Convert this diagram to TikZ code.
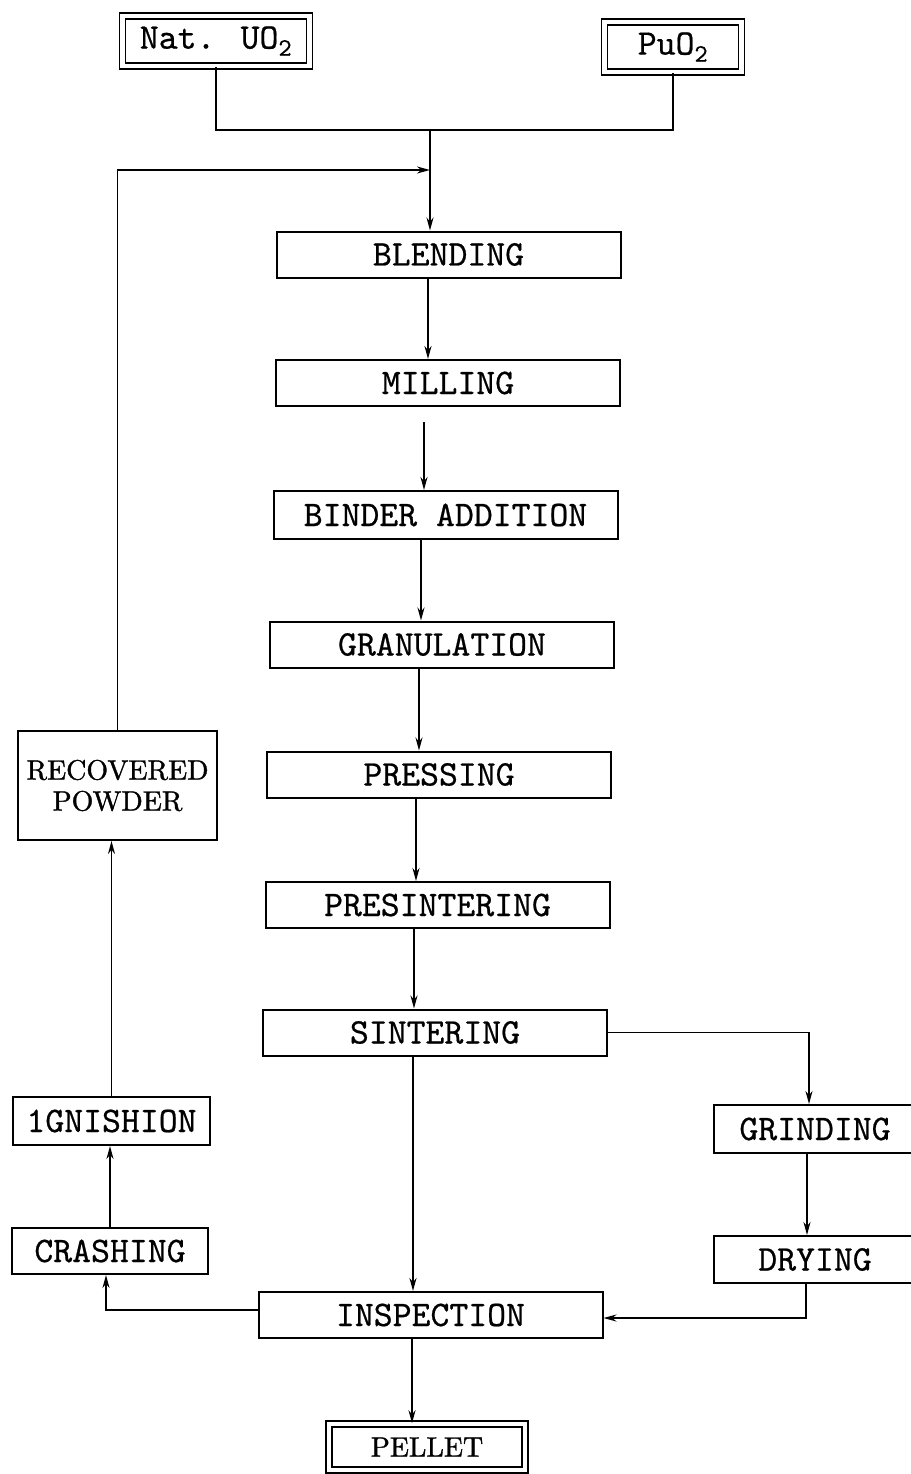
\documentclass[tikz,border=0pt]{standalone}
\usepackage{fontspec}
\usetikzlibrary{arrows.meta}
\newfontfamily\typer{lmmono10-regular.otf}[FakeBold=0.6]
\newfontfamily\serifer{lmroman10-regular.otf}[FakeBold=1.2]

\begin{document}
\begin{tikzpicture}[x=1pt,y=-1pt,
    >={Stealth[length=13pt,width=7pt]},
    box/.style={draw,line width=2pt,minimum width=344pt,minimum height=46pt,inner sep=0pt,font=\fontsize{36}{40}\typer},
    sidebox/.style={box,minimum width=197pt},
    endbox/.style={draw,double,double distance=4.5pt,line width=1.6pt,inner sep=0pt,font=\fontsize{36}{40}\typer},
    flow/.style={->,line width=1.8pt}]
    \useasboundingbox (0,0) rectangle (910,1474);

    \node[endbox,minimum width=187pt,minimum height=50pt] (nat) at (216,41) {Nat. UO\textsubscript{2}};
    \node[endbox,minimum width=137pt,minimum height=50pt] (puo) at (673,47) {PuO\textsubscript{2}};

    \node[box] (blend) at (448.5,254.5) {BLENDING};
    \node[box] (mill) at (448,383) {MILLING};
    \node[box,minimum height=48pt] (binder) at (445.5,515) {BINDER ADDITION};
    \node[box] (gran) at (442,644.5) {GRANULATION};
    \node[box] (press) at (439,774.5) {PRESSING};
    \node[box] (presint) at (437.5,905) {PRESINTERING};
    \node[box] (sint) at (435,1032.5) {SINTERING};
    \node[box] (insp) at (430.5,1315) {INSPECTION};
    \node[endbox,minimum width=196pt,minimum height=46pt,font=\fontsize{28}{31}\serifer] (pellet) at (427,1447) {PELLET};

    \node[sidebox,minimum width=199pt,minimum height=109pt,align=center,font=\fontsize{28}{31}\serifer] (recov) at (117.5,785.5) {RECOVERED\\POWDER};
    \node[sidebox,minimum height=48pt] (ign) at (111.5,1121) {1GNISHION};
    \node[sidebox,minimum width=196pt] (crash) at (110,1251) {CRASHING};
    \node[sidebox,minimum width=202pt,minimum height=48pt] (grind) at (815,1129) {GRINDING};
    \node[sidebox,minimum width=202pt,minimum height=47pt] (dry) at (815,1259.5) {DRYING};

    \coordinate (join) at (430,130);
    \coordinate (back) at (430,170);

    \draw[line width=1.8pt] (nat.south) |- (join) -| (puo.south);
    \draw[flow] (join) -- (join |- blend.north);
    \draw[flow] (recov.north) |- (back);

    \draw[flow] ([xshift=-20.5pt]blend.south) -- ([xshift=-20pt]mill.north);
    \draw[flow,shorten <=15pt] ([xshift=-24pt]mill.south) -- ([xshift=-21.5pt]binder.north);
    \draw[flow] ([xshift=-24.5pt]binder.south) -- ([xshift=-21pt]gran.north);
    \draw[flow] ([xshift=-23pt]gran.south) -- ([xshift=-20pt]press.north);
    \draw[flow] ([xshift=-23pt]press.south) -- ([xshift=-21.5pt]presint.north);
    \draw[flow] ([xshift=-23.5pt]presint.south) -- ([xshift=-21pt]sint.north);
    \draw[flow] ([xshift=-22pt]sint.south) -- ([xshift=-17.5pt]insp.north);
    \draw[flow] ([xshift=-18.5pt]insp.south) -- ([xshift=-15pt]pellet.north);

    \draw[flow] (sint.east) -| ([xshift=-6pt]grind.north);
    \draw[flow] ([xshift=-8pt]grind.south) -- ([xshift=-8pt]dry.north);
    \draw[flow] ([xshift=-9pt]dry.south) |- ([yshift=-3pt]insp.east);

    \draw[flow] ([yshift=5pt]insp.west) -| ([xshift=-4pt]crash.south);
    \draw[flow] (crash.north) -- (crash.north |- ign.south);
    \draw[flow] (ign.north) -- (ign.north |- recov.south);
\end{tikzpicture}
\end{document}
